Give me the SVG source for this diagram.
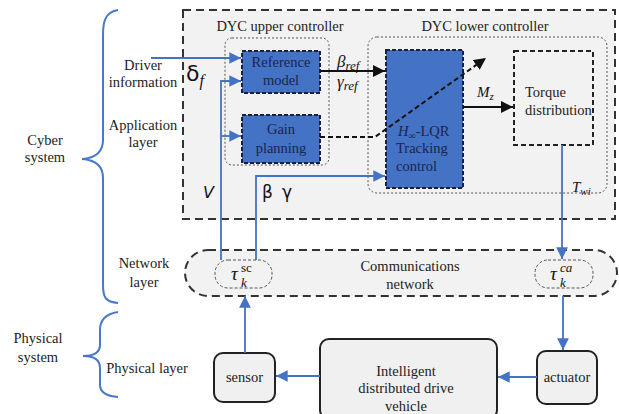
<svg xmlns="http://www.w3.org/2000/svg" width="619" height="414" viewBox="0 0 619 414">
<defs>
<style>
.t{font-family:"Liberation Serif","Times New Roman",serif;font-size:14.5px;fill:#222;text-anchor:middle}
.tb{font-family:"Liberation Serif","Times New Roman",serif;font-size:14.5px;fill:#1a2550;text-anchor:middle}
.m{font-family:"Liberation Serif","Times New Roman",serif;font-style:italic;fill:#111}
.s{font-family:"DejaVu Sans","Liberation Sans",sans-serif;fill:#111}
.dash{fill:#f2f2f2;stroke:#333;stroke-width:2;stroke-dasharray:8 5}
.dot{fill:none;stroke:#555;stroke-width:1;stroke-dasharray:2 2}
.dotf{fill:#f2f2f2;stroke:#555;stroke-width:1;stroke-dasharray:3 2}
.blue{fill:#4472c4;stroke:#1a1f3a;stroke-width:2;stroke-dasharray:4 2}
.phys{fill:#f0f0f0;stroke:#222;stroke-width:2}
.bl{fill:none;stroke:#4472c4;stroke-width:1.8}
.bk{fill:none;stroke:#111;stroke-width:2}
.brace{fill:none;stroke:#4a78c8;stroke-width:2}
</style>
<marker id="ab" viewBox="0 0 10 10" refX="10" refY="5" markerWidth="6.5" markerHeight="6.5" markerUnits="strokeWidth" orient="auto"><path d="M0,0 L10,5 L0,10 z" fill="#4472c4"/></marker>
<marker id="ak" viewBox="0 0 10 10" refX="10" refY="5" markerWidth="6" markerHeight="6" markerUnits="strokeWidth" orient="auto"><path d="M0,0 L10,5 L0,10 z" fill="#111"/></marker>
</defs>
<rect width="619" height="414" fill="#fff"/>

<g id="braces">
<path class="brace" d="M118,10 C106,12 103,20 103,35 L103,140 C103,152 96,158 82,159 C96,160 103,166 103,178 L103,285 C103,298 106,302 118,303"/>
<path class="brace" d="M118,312 C105,314 100,320 100,330 L100,345 C100,352 94,356 83,356 C94,356 100,360 100,368 L100,385 C100,392 105,396 118,397"/>
</g>
<g id="side-labels">
<text class="t" x="45" y="145">Cyber</text>
<text class="t" x="45" y="162">system</text>
<text class="t" x="38" y="343">Physical</text>
<text class="t" x="38" y="362">system</text>
<text class="t" x="143" y="70">Driver</text>
<text class="t" x="143" y="87">information</text>
<text class="t" x="143" y="130">Application</text>
<text class="t" x="143" y="147">layer</text>
<text class="t" x="144" y="268">Network</text>
<text class="t" x="144" y="287">layer</text>
<text class="t" x="147" y="373">Physical layer</text>
</g>

<g id="application-layer">
<rect class="dash" x="183" y="10" width="432" height="209"/>
</g>
<g id="dyc-upper">
<rect class="dot" x="225" y="38" width="104" height="127" rx="7"/>
<text class="t" x="280" y="31">DYC upper controller</text>
</g>
<g id="dyc-lower">
<rect class="dot" x="368" y="37" width="239" height="156" rx="9"/>
<text class="t" x="485" y="31">DYC lower controller</text>
</g>
<g id="reference-model">
<rect class="blue" x="242" y="51" width="78" height="42"/>
<text class="tb" x="281" y="67">Reference</text>
<text class="tb" x="281" y="85">model</text>
</g>
<g id="gain-planning">
<rect class="blue" x="242" y="115" width="78" height="48"/>
<text class="tb" x="281" y="134">Gain</text>
<text class="tb" x="281" y="153">planning</text>
</g>
<g id="hinf-lqr">
<rect class="blue" x="386" y="50" width="77" height="138"/>
<text class="tb" x="398" y="136" style="text-anchor:start"><tspan font-style="italic">H</tspan><tspan font-size="10" dy="3" font-style="italic">∞</tspan><tspan dy="-3">-LQR</tspan></text>
<text class="tb" x="396" y="153" style="text-anchor:start">Tracking</text>
<text class="tb" x="396" y="171" style="text-anchor:start">control</text>
</g>
<g id="torque-distribution">
<rect fill="none" stroke="#222" stroke-width="2" stroke-dasharray="5 3" x="514" y="51" width="79" height="94"/>
<text class="t" x="525" y="97" style="text-anchor:start">Torque</text>
<text class="t" x="525" y="115" style="text-anchor:start">distribution</text>
</g>

<g id="network-layer">
<rect class="dash" x="185" y="250" width="432" height="46" rx="23"/>
<text class="t" x="410" y="271">Communications</text>
<text class="t" x="410" y="289">network</text>
</g>
<g id="tau-sc">
<rect class="dotf" x="215" y="260" width="57" height="28" rx="13"/>
<text class="m" x="231" y="280" font-size="19">τ</text>
<text class="m" x="241" y="272" font-size="13" style="font-style:normal">sc</text>
<text class="m" x="241" y="287" font-size="13">k</text>
</g>
<g id="tau-ca">
<rect class="dotf" x="535" y="260" width="58" height="28" rx="13"/>
<text class="m" x="550" y="280" font-size="19">τ</text>
<text class="m" x="560" y="272" font-size="13">ca</text>
<text class="m" x="560" y="287" font-size="13">k</text>
</g>

<g id="sensor">
<rect class="phys" x="214" y="353" width="61" height="49" rx="9"/>
<text class="t" x="244.5" y="382">sensor</text>
</g>
<g id="vehicle">
<rect class="phys" x="320" y="339" width="177" height="80" rx="9"/>
<text class="t" x="406" y="376">Intelligent</text>
<text class="t" x="406" y="393">distributed drive</text>
<text class="t" x="406" y="411">vehicle</text>
</g>
<g id="actuator">
<rect class="phys" x="537" y="351" width="60" height="53" rx="9"/>
<text class="t" x="567" y="382">actuator</text>
</g>

<g id="connectors">
<path class="bl" d="M151,58 L241,58" marker-end="url(#ab)"/>
<path class="bl" d="M221,260 L221,81 L241,81" marker-end="url(#ab)"/>
<path class="bl" d="M221,136 L241,136" marker-end="url(#ab)"/>
<path class="bl" d="M256,260 L256,176 L385,176" marker-end="url(#ab)"/>
<path class="bk" d="M320,71 L385,71" marker-end="url(#ak)"/>
<path class="bk" d="M320,137 L375,137 L486,58" stroke-dasharray="5 3" marker-end="url(#ak)"/>
<path class="bk" d="M463,107 L513,107" marker-end="url(#ak)"/>
<path class="bl" d="M562,145 L562,259" marker-end="url(#ab)"/>
<path class="bl" d="M245,353 L245,296" marker-end="url(#ab)"/>
<path class="bl" d="M563,296 L563,350" marker-end="url(#ab)"/>
<path class="bl" d="M537,377 L498,377" marker-end="url(#ab)"/>
<path class="bl" d="M320,376 L276,376" marker-end="url(#ab)"/>
</g>

<g id="signal-labels">
<text class="s" x="186" y="81" font-size="22">δ<tspan class="m" font-family="Liberation Serif" font-size="16" dy="5">f</tspan></text>
<text class="m" x="337" y="67" font-size="17">β<tspan font-size="13" dy="3">ref</tspan></text>
<text class="m" x="337" y="87" font-size="17">γ<tspan font-size="13" dy="3">ref</tspan></text>
<text class="m" x="477" y="97" font-size="15">M<tspan font-size="11" dy="3">z</tspan></text>
<text class="m" x="572" y="192" font-size="15">T<tspan font-size="11" dy="3">wi</tspan></text>
<text class="s" x="203" y="198" font-size="16" font-style="italic">V</text>
<text class="s" x="262" y="198" font-size="17">β</text>
<text class="s" x="282" y="198" font-size="17">γ</text>
</g>
</svg>
